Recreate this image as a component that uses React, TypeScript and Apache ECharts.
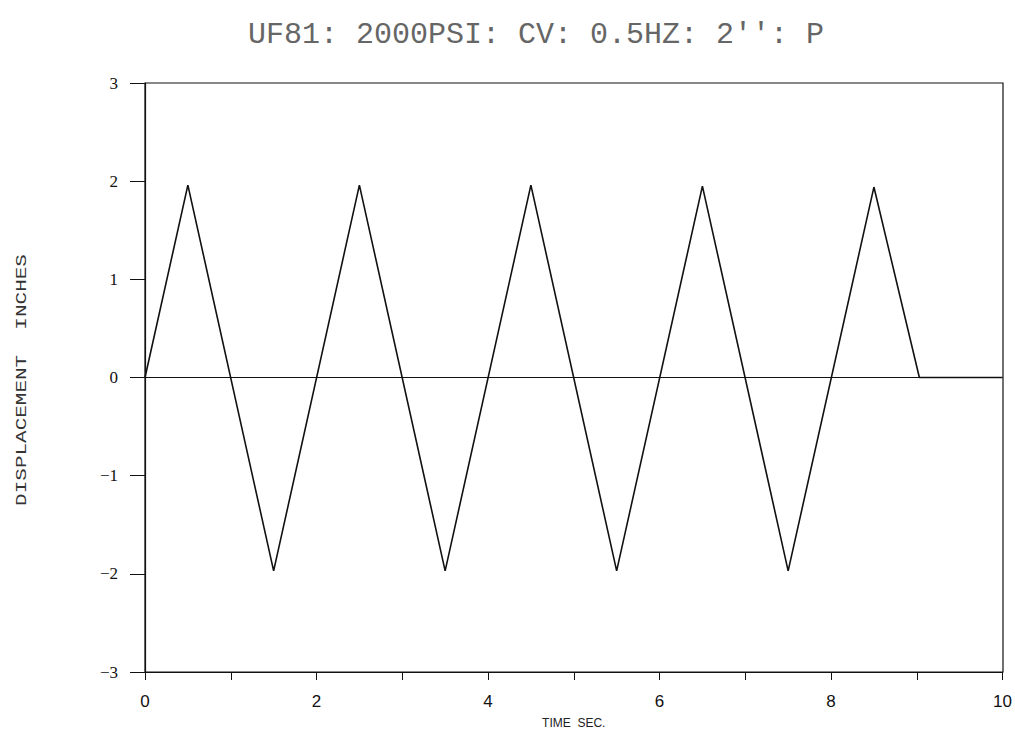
import React, { useEffect, useRef } from "react";
import * as echarts from "echarts";

const titleText = "UF81: 2000PSI: CV: 0.5HZ: 2'': P";
const xName = "TIME  SEC.";
const yName = "DISPLACEMENT  INCHES";
const timeValues = [0, 0.5, 1.5, 2.5, 3.5, 4.5, 5.5, 6.5, 7.5, 8.5, 9.03, 10];
const displacementValues = [0, 1.96, -1.97, 1.96, -1.97, 1.96, -1.97, 1.95, -1.97, 1.94, 0, 0];
const zeroLineTimes = [0, 10];
const zeroLineValues = [0, 0];

const fmt = (v: number) => (v < 0 ? "\u2212" + Math.abs(v) : String(v));

export default function App() {
  const ref = useRef<HTMLDivElement>(null);
  useEffect(() => {
    if (!ref.current) return;
    const chart = echarts.init(ref.current, undefined, { renderer: "svg" });
    chart.setOption({
      animation: false,
      backgroundColor: "#fff",
      title: {
        text: titleText,
        left: 531,
        textAlign: "center",
        top: 15,
        textStyle: {
          fontFamily: "Liberation Mono",
          fontWeight: "normal",
          fontSize: 30,
          color: "#666",
        },
      },
      grid: { left: 145, right: 12, top: 83, bottom: 83, show: false },
      xAxis: {
        type: "value",
        min: 0,
        max: 10,
        interval: 1,
        name: xName,
        nameLocation: "middle",
        nameGap: 45,
        nameTextStyle: { fontFamily: "Liberation Sans", fontSize: 12, color: "#222" },
        axisLine: { show: true, onZero: false, lineStyle: { color: "#111", width: 1.2 } },
        axisTick: { show: true, inside: false, length: 8, lineStyle: { color: "#111" } },
        axisLabel: {
          margin: 21,
          fontFamily: "Liberation Sans",
          fontSize: 17,
          color: "#111",
          formatter: (v: number) => (v % 2 === 0 ? fmt(v) : ""),
        },
        splitLine: { show: false },
      },
      yAxis: {
        type: "value",
        min: -3,
        max: 3,
        interval: 1,
        axisLine: { show: true, onZero: false, lineStyle: { color: "#111", width: 1.2 } },
        axisTick: { show: true, inside: false, length: 15, lineStyle: { color: "#111" } },
        axisLabel: {
          margin: 27,
          fontFamily: "Liberation Serif",
          fontSize: 17,
          color: "#111",
          formatter: fmt,
        },
        splitLine: { show: false },
      },
      graphic: [
        {
          type: "rect",
          shape: { x: 145, y: 83, width: 858, height: 589 },
          style: { fill: "none", stroke: "#111", lineWidth: 1.2 },
          silent: true,
        },
        {
          type: "text",
          x: 22,
          y: 380,
          rotation: Math.PI / 2,
          scaleX: 1.5,
          scaleY: 1,
          style: {
            text: yName,
            fontFamily: "Liberation Mono",
            fontSize: 14,
            fill: "#333",
            align: "center",
            verticalAlign: "middle",
          },
          silent: true,
        },
      ],
      series: [
        {
          type: "line",
          data: zeroLineTimes.map((t, i) => [t, zeroLineValues[i]]),
          symbol: "none",
          lineStyle: { color: "#111", width: 1.2 },
        },
        {
          type: "line",
          data: timeValues.map((t, i) => [t, displacementValues[i]]),
          symbol: "none",
          lineStyle: { color: "#111", width: 1.6 },
        },
      ],
    });
    return () => chart.dispose();
  }, []);
  return <div ref={ref} style={{ width: 1015, height: 755, position: "absolute", left: 0, top: 0 }} />;
}
